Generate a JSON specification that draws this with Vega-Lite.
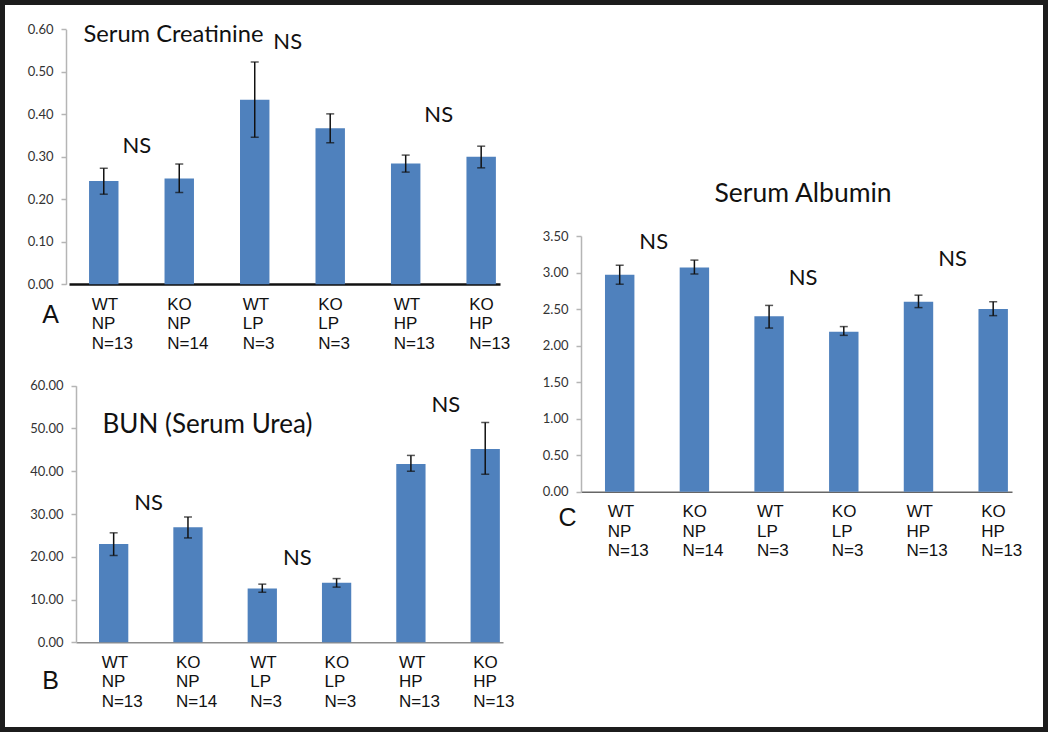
{
  "$schema": "https://vega.github.io/schema/vega-lite/v6.json",
  "width": 1048,
  "height": 732,
  "autosize": {"type": "none"},
  "padding": 0,
  "background": "white",
  "config": {
    "view": {"stroke": "#1c1c1c", "strokeWidth": 10},
    "axis": {"grid": false},
    "axisY": {
      "labelFont": "Lato", "labelFontSize": 13, "labelColor": "#333", "labelPadding": 8,
      "tickSize": 5, "tickColor": "#b5b5b5", "tickWidth": 1.5, "domainColor": "#b5b5b5", "domainWidth": 1.5,
      "format": ".2f", "titleAngle": 0, "titleAlign": "left", "titleBaseline": "alphabetic",
      "titleFont": "Lato", "titleFontWeight": "normal", "titleColor": "#111"
    },
    "axisX": {
      "ticks": false, "labelFont": "Liberation Sans", "labelFontSize": 17, "labelColor": "#111",
      "labelAlign": "left", "labelBaseline": "top", "labelLineHeight": 19.5, "labelOffset": -12,
      "labelPadding": 12, "labelAngle": 0, "labelOverlap": false, "labelBound": false, "labelLimit": 0,
      "labelExpr": "split(datum.label, ' ')",
      "titleFont": "Liberation Sans", "titleFontSize": 25, "titleFontWeight": "normal", "titleColor": "#111",
      "titleAlign": "center", "titleBaseline": "middle"
    }
  },
  "datasets": {
    "A": [
      {"group": "WT NP N=13", "value": 0.243, "lo": 0.212, "hi": 0.273},
      {"group": "KO NP N=14", "value": 0.249, "lo": 0.216, "hi": 0.283},
      {"group": "WT LP N=3", "value": 0.434, "lo": 0.346, "hi": 0.523},
      {"group": "KO LP N=3", "value": 0.367, "lo": 0.333, "hi": 0.401},
      {"group": "WT HP N=13", "value": 0.284, "lo": 0.264, "hi": 0.304},
      {"group": "KO HP N=13", "value": 0.300, "lo": 0.274, "hi": 0.325}
    ],
    "A_ns": [
      {"group": "WT NP N=13", "y": 0.325, "label": "NS"},
      {"group": "WT LP N=3", "y": 0.571, "label": "NS"},
      {"group": "WT HP N=13", "y": 0.398, "label": "NS"}
    ],
    "B": [
      {"group": "WT NP N=13", "value": 23.0, "lo": 20.3, "hi": 25.6},
      {"group": "KO NP N=14", "value": 26.9, "lo": 24.4, "hi": 29.3},
      {"group": "WT LP N=3", "value": 12.6, "lo": 11.7, "hi": 13.6},
      {"group": "KO LP N=3", "value": 13.9, "lo": 12.9, "hi": 14.9},
      {"group": "WT HP N=13", "value": 41.7, "lo": 40.0, "hi": 43.7},
      {"group": "KO HP N=13", "value": 45.2, "lo": 39.3, "hi": 51.4}
    ],
    "B_ns": [
      {"group": "WT NP N=13", "y": 32.6, "label": "NS"},
      {"group": "WT LP N=3", "y": 19.7, "label": "NS"},
      {"group": "WT HP N=13", "y": 55.5, "label": "NS"}
    ],
    "C": [
      {"group": "WT NP N=13", "value": 2.97, "lo": 2.84, "hi": 3.10},
      {"group": "KO NP N=14", "value": 3.07, "lo": 2.98, "hi": 3.17},
      {"group": "WT LP N=3", "value": 2.40, "lo": 2.24, "hi": 2.55},
      {"group": "KO LP N=3", "value": 2.19, "lo": 2.14, "hi": 2.26},
      {"group": "WT HP N=13", "value": 2.60, "lo": 2.52, "hi": 2.69},
      {"group": "KO HP N=13", "value": 2.50, "lo": 2.41, "hi": 2.60}
    ],
    "C_ns": [
      {"group": "WT NP N=13", "y": 3.42, "label": "NS"},
      {"group": "WT LP N=3", "y": 2.92, "label": "NS"},
      {"group": "WT HP N=13", "y": 3.19, "label": "NS"}
    ]
  },
  "layer": [
    {
      "layer": [
        {
          "data": {"name": "A"},
          "mark": {"type": "bar", "color": "#4f81bd"},
          "encoding": {
            "x": {"field": "group", "type": "nominal", "sort": null,
              "scale": {"domain": ["WT NP N=13", "KO NP N=14", "WT LP N=3", "KO LP N=3", "WT HP N=13", "KO HP N=13"],
                "range": [69, 500], "paddingInner": 0.61, "paddingOuter": 0.16, "align": 0.83},
              "axis": {"orient": "bottom", "title": "A", "offset": -448, "domainColor": "#111", "domainWidth": 2.5, "titleX": 50, "titleY": 30}},
            "y": {"field": "value", "type": "quantitative",
              "scale": {"domain": [0, 0.6], "range": [284.3, 29.3], "nice": false, "zero": true},
              "axis": {"orient": "left", "title": "Serum Creatinine", "offset": -66, "values": [0, 0.1, 0.2, 0.3, 0.4, 0.5, 0.6], "titleX": 17, "titleY": 41, "titleFontSize": 23.7}}
          }
        },
        {
          "data": {"name": "A"},
          "mark": {"type": "rule", "color": "#111", "strokeWidth": 1.5},
          "encoding": {"x": {"field": "group", "type": "nominal", "sort": null}, "y": {"field": "lo", "type": "quantitative"}, "y2": {"field": "hi"}}
        },
        {
          "data": {"name": "A"},
          "mark": {"type": "tick", "color": "#111", "size": 8, "thickness": 1.5},
          "encoding": {"x": {"field": "group", "type": "nominal", "sort": null}, "y": {"field": "lo", "type": "quantitative"}}
        },
        {
          "data": {"name": "A"},
          "mark": {"type": "tick", "color": "#111", "size": 8, "thickness": 1.5},
          "encoding": {"x": {"field": "group", "type": "nominal", "sort": null}, "y": {"field": "hi", "type": "quantitative"}}
        },
        {
          "data": {"name": "A_ns"},
          "mark": {"type": "text", "font": "Lato", "fontSize": 22, "color": "#111", "dx": 33, "baseline": "middle"},
          "encoding": {"x": {"field": "group", "type": "nominal", "sort": null}, "y": {"field": "y", "type": "quantitative"}, "text": {"field": "label"}}
        }
      ]
    },
    {
      "layer": [
        {
          "data": {"name": "B"},
          "mark": {"type": "bar", "color": "#4f81bd"},
          "encoding": {
            "x": {"field": "group", "type": "nominal", "sort": null,
              "scale": {"domain": ["WT NP N=13", "KO NP N=14", "WT LP N=3", "KO LP N=3", "WT HP N=13", "KO HP N=13"],
                "range": [76, 503], "paddingInner": 0.606, "paddingOuter": 0.176, "align": 0.88},
              "axis": {"orient": "bottom", "title": "B", "offset": -89.7, "domainColor": "#8c8c8c", "domainWidth": 1.5, "titleX": 50, "titleY": 38}},
            "y": {"field": "value", "type": "quantitative",
              "scale": {"domain": [0, 60], "range": [642.3, 385.7], "nice": false, "zero": true},
              "axis": {"orient": "left", "title": "BUN (Serum Urea)", "offset": -76, "values": [0, 10, 20, 30, 40, 50, 60], "titleX": 26, "titleY": 432, "titleFontSize": 26}}
          }
        },
        {
          "data": {"name": "B"},
          "mark": {"type": "rule", "color": "#111", "strokeWidth": 1.5},
          "encoding": {"x": {"field": "group", "type": "nominal", "sort": null}, "y": {"field": "lo", "type": "quantitative"}, "y2": {"field": "hi"}}
        },
        {
          "data": {"name": "B"},
          "mark": {"type": "tick", "color": "#111", "size": 8, "thickness": 1.5},
          "encoding": {"x": {"field": "group", "type": "nominal", "sort": null}, "y": {"field": "lo", "type": "quantitative"}}
        },
        {
          "data": {"name": "B"},
          "mark": {"type": "tick", "color": "#111", "size": 8, "thickness": 1.5},
          "encoding": {"x": {"field": "group", "type": "nominal", "sort": null}, "y": {"field": "hi", "type": "quantitative"}}
        },
        {
          "data": {"name": "B_ns"},
          "mark": {"type": "text", "font": "Lato", "fontSize": 22, "color": "#111", "dx": 35, "baseline": "middle"},
          "encoding": {"x": {"field": "group", "type": "nominal", "sort": null}, "y": {"field": "y", "type": "quantitative"}, "text": {"field": "label"}}
        }
      ]
    },
    {
      "layer": [
        {
          "data": {"name": "C"},
          "mark": {"type": "bar", "color": "#4f81bd"},
          "encoding": {
            "x": {"field": "group", "type": "nominal", "sort": null,
              "scale": {"domain": ["WT NP N=13", "KO NP N=14", "WT LP N=3", "KO LP N=3", "WT HP N=13", "KO HP N=13"],
                "range": [581, 1012], "paddingInner": 0.606, "paddingOuter": 0.188, "align": 0.854},
              "axis": {"orient": "bottom", "title": "C", "offset": -240.3, "domainColor": "#666", "domainWidth": 1.5, "titleX": 567, "titleY": 26}},
            "y": {"field": "value", "type": "quantitative",
              "scale": {"domain": [0, 3.5], "range": [491.7, 236], "nice": false, "zero": true},
              "axis": {"orient": "left", "title": "Serum Albumin", "offset": -581, "values": [0, 0.5, 1, 1.5, 2, 2.5, 3, 3.5], "titleX": 133, "titleY": 201, "titleFontSize": 26.5}}
          }
        },
        {
          "data": {"name": "C"},
          "mark": {"type": "rule", "color": "#111", "strokeWidth": 1.5},
          "encoding": {"x": {"field": "group", "type": "nominal", "sort": null}, "y": {"field": "lo", "type": "quantitative"}, "y2": {"field": "hi"}}
        },
        {
          "data": {"name": "C"},
          "mark": {"type": "tick", "color": "#111", "size": 8, "thickness": 1.5},
          "encoding": {"x": {"field": "group", "type": "nominal", "sort": null}, "y": {"field": "lo", "type": "quantitative"}}
        },
        {
          "data": {"name": "C"},
          "mark": {"type": "tick", "color": "#111", "size": 8, "thickness": 1.5},
          "encoding": {"x": {"field": "group", "type": "nominal", "sort": null}, "y": {"field": "hi", "type": "quantitative"}}
        },
        {
          "data": {"name": "C_ns"},
          "mark": {"type": "text", "font": "Lato", "fontSize": 22, "color": "#111", "dx": 34, "baseline": "middle"},
          "encoding": {"x": {"field": "group", "type": "nominal", "sort": null}, "y": {"field": "y", "type": "quantitative"}, "text": {"field": "label"}}
        }
      ]
    }
  ],
  "resolve": {
    "scale": {"x": "independent", "y": "independent"},
    "axis": {"x": "independent", "y": "independent"}
  }
}
